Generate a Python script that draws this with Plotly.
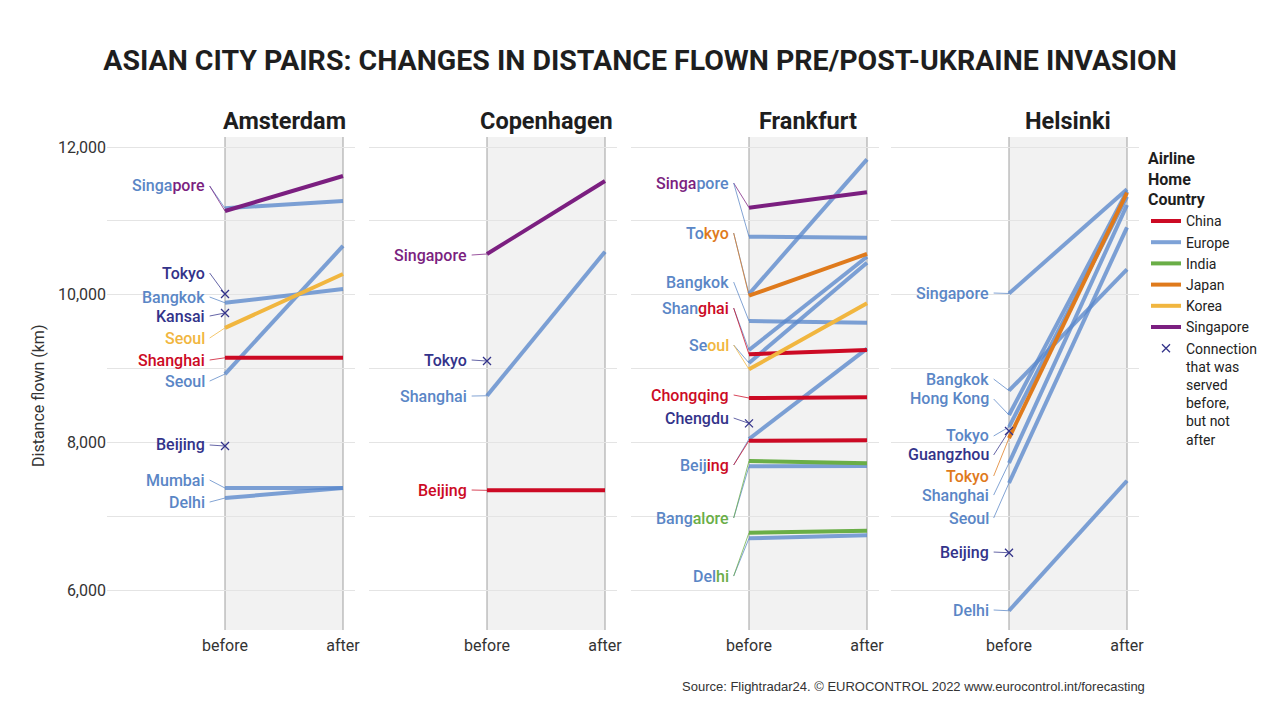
import plotly.graph_objects as go

# ---------------- data ----------------
PANELS = ["Amsterdam", "Copenhagen", "Frankfurt", "Helsinki"]
AIRLINES = ["China", "Europe", "India", "Japan", "Korea", "Singapore"]
GONE = "Gone"  # connection served before, but not after
GONE_NAME = "Connection<br>that was<br>served<br>before,<br>but not<br>after"
X_TICKS = ["before", "after"]
Y_TICKS = [6000, 7000, 8000, 9000, 10000, 11000, 12000]
Y_TICK_TEXT = ["6,000", "", "8,000", "", "10,000", "", "12,000"]

# Amsterdam
AMS_CITY = ["Singapore", "Singapore", "Tokyo", "Bangkok", "Kansai", "Seoul", "Shanghai",
            "Seoul", "Beijing", "Mumbai", "Delhi"]
AMS_AIRLINE = ["Europe", "Singapore", GONE, "Europe", GONE, "Korea", "China",
               "Europe", GONE, "Europe", "Europe"]
AMS_BEFORE = [11170, 11133, 10009, 9890, 9752, 9550, 9145, 8925, 7950, 7381, 7246]
AMS_AFTER = [11270, 11607, None, 10077, None, 10280, 9145, 10660, None, 7380, 7380]

# Copenhagen
CPH_CITY = ["Singapore", "Tokyo", "Shanghai", "Beijing"]
CPH_AIRLINE = ["Singapore", GONE, "Europe", "China"]
CPH_BEFORE = [10551, 9101, 8631, 7350]
CPH_AFTER = [11540, None, 10582, 7350]

# Frankfurt
FRA_CITY = ["Singapore", "Singapore", "Tokyo", "Tokyo", "Bangkok", "Shanghai", "Shanghai",
            "Seoul", "Seoul", "Chongqing", "Chengdu", "Beijing", "Beijing",
            "Bangalore", "Bangalore", "Delhi", "Delhi"]
FRA_AIRLINE = ["Singapore", "Europe", "Europe", "Japan", "Europe", "Europe", "China",
               "Europe", "Korea", "China", GONE, "Europe", "China",
               "India", "Europe", "India", "Europe"]
FRA_BEFORE = [11178, 10785, 10009, 9986, 9643, 9250, 9192, 9074, 8989, 8600, 8257,
              8045, 8022, 7747, 7675, 6776, 6700]
FRA_AFTER = [11386, 10771, 11833, 10551, 9620, 10514, 9250, 10433, 9883, 8610, None,
             9268, 8027, 7716, 7679, 6803, 6741]

# Helsinki
HEL_CITY = ["Singapore", "Bangkok", "Hong Kong", "Tokyo", "Guangzhou", "Tokyo",
            "Shanghai", "Seoul", "Beijing", "Delhi"]
HEL_AIRLINE = ["Europe", "Europe", "Europe", "Europe", GONE, "Japan",
               "Europe", "Europe", GONE, "Europe"]
HEL_BEFORE = [10016, 8699, 8370, 8207, 8153, 8058, 7720, 7449, 6505, 5719]
HEL_AFTER = [11427, 10344, 11400, 11327, None, 11381, 11214, 10912, None, 7480]

# label groups: which routes each city label names (text split into coloured parts)
AMS_LABELS = [[(0, 5), (1, None)], [(2, None)], [(3, None)], [(4, None)], [(5, None)],
              [(6, None)], [(7, None)], [(8, None)], [(9, None)], [(10, None)]]
CPH_LABELS = [[(0, None)], [(1, None)], [(2, None)], [(3, None)]]
FRA_LABELS = [[(0, 5), (1, None)], [(2, 2), (3, None)], [(4, None)], [(5, 4), (6, None)],
              [(7, 2), (8, None)], [(9, None)], [(10, None)], [(11, 4), (12, None)],
              [(14, 4), (13, None)], [(16, 3), (15, None)]]
HEL_LABELS = [[(0, None)], [(1, None)], [(2, None)], [(3, None)], [(4, None)], [(5, None)],
              [(6, None)], [(7, None)], [(8, None)], [(9, None)]]

# ---------------- layout placement (label y positions, km scale) ----------------
AMS_LABEL_Y = [11472, 10293, 9968, 9711, 9413, 9115, 8830, 7964, 7489, 7191]
CPH_LABEL_Y = [10537, 9115, 8627, 7354]
FRA_LABEL_Y = [11512, 10835, 10171, 9819, 9318, 8641, 8329, 7693, 6975, 6189]
HEL_LABEL_Y = [10022, 8857, 8587, 8086, 7829, 7544, 7286, 6975, 6514, 5729]

PANEL_DATA = [
    (AMS_CITY, AMS_AIRLINE, AMS_BEFORE, AMS_AFTER, AMS_LABELS, AMS_LABEL_Y),
    (CPH_CITY, CPH_AIRLINE, CPH_BEFORE, CPH_AFTER, CPH_LABELS, CPH_LABEL_Y),
    (FRA_CITY, FRA_AIRLINE, FRA_BEFORE, FRA_AFTER, FRA_LABELS, FRA_LABEL_Y),
    (HEL_CITY, HEL_AIRLINE, HEL_BEFORE, HEL_AFTER, HEL_LABELS, HEL_LABEL_Y),
]

# ---------------- styles ----------------
FONT = "Roboto"
LINE_COLORS = {
    "China": "#cc0a24",
    "Europe": "rgba(90,136,204,0.78)",
    "India": "#6aae47",
    "Japan": "#df7a1c",
    "Korea": "#f1b63f",
    "Singapore": "#7b1f80",
}
TEXT_COLORS = {
    "China": "#cc0a24",
    "Europe": "#5a86c6",
    "India": "#6aae47",
    "Japan": "#df7a1c",
    "Korea": "#f1b63f",
    "Singapore": "#7b1f80",
    GONE: "#33338a",
}
W, H = 1280, 720
BEFORE_PX = [225, 487, 749, 1009]
UNIT_PX = 118
Y_TOP_PX, Y_BOT_PX = 137, 630
KM_PER_PX = 6000 / 443.0
Y_RANGE = [12000 - (Y_BOT_PX - 147) * KM_PER_PX, 12000 + (147 - Y_TOP_PX) * KM_PER_PX]
X_RANGE = [-1.0, 130 / UNIT_PX]
LABEL_X = -0.15
LEADER_X = -0.13

fig = go.Figure()
shown = set()
annotations = []
shapes = []

for k, (city, airline, before, after, labels, label_y) in enumerate(PANEL_DATA):
    sfx = "" if k == 0 else str(k + 1)
    xa, ya = "x" + sfx, "y" + sfx

    # leader lines
    for parts, ly in zip(labels, label_y):
        for ri, _ in parts:
            col = TEXT_COLORS[airline[ri]]
            fig.add_trace(go.Scatter(
                x=[LEADER_X, 0], y=[ly, before[ri]], mode="lines",
                line=dict(color=col, width=1), opacity=0.75,
                xaxis=xa, yaxis=ya, showlegend=False, hoverinfo="skip"))

    # route lines: Europe first, then the rest on top
    order = [i for i in range(len(city)) if airline[i] == "Europe"] + \
            [i for i in range(len(city)) if airline[i] not in ("Europe", GONE)]
    for i in order:
        a = airline[i]
        fig.add_trace(go.Scatter(
            x=[0, 1], y=[before[i], after[i]], mode="lines",
            line=dict(color=LINE_COLORS[a], width=4),
            name=a, legendgroup=a, showlegend=a not in shown,
            legendrank=AIRLINES.index(a) + 1,
            xaxis=xa, yaxis=ya, hovertemplate=city[i] + ": %{y:,.0f} km<extra>" + a + "</extra>"))
        shown.add(a)
    for i in range(len(city)):
        if airline[i] == GONE:
            fig.add_trace(go.Scatter(
                x=[0], y=[before[i]], mode="markers",
                marker=dict(symbol="x-thin", size=8, color=TEXT_COLORS[GONE],
                            line=dict(color=TEXT_COLORS[GONE], width=1.3)),
                name=GONE_NAME, legendgroup=GONE, showlegend=GONE not in shown,
                legendrank=50, xaxis=xa, yaxis=ya,
                hovertemplate=city[i] + ": %{y:,.0f} km<extra></extra>"))
            shown.add(GONE)

    # city labels
    for parts, ly in zip(labels, label_y):
        name = city[parts[0][0]]
        segs, pos = [], 0
        for ri, cut in parts:
            end = len(name) if cut is None else cut
            segs.append('<span style="color:%s">%s</span>' % (TEXT_COLORS[airline[ri]], name[pos:end]))
            pos = end
        annotations.append(dict(
            xref=xa, yref=ya, x=LABEL_X, y=ly, text="".join(segs), showarrow=False,
            xanchor="right", yanchor="middle", font=dict(family=FONT, size=16, weight=500)))

    # panel title
    annotations.append(dict(
        xref=xa, yref="paper", x=0.5, y=1 - 121 / H, text=PANELS[k], showarrow=False,
        xanchor="center", yanchor="middle",
        font=dict(family=FONT, size=23.5, color="#1e1e1e", weight=700)))

    # grey band and before/after rules
    shapes.append(dict(type="rect", xref=xa, yref=ya + " domain", x0=0, x1=1, y0=0, y1=1,
                       fillcolor="#f2f2f2", line=dict(width=0), layer="below"))
    for xv in (0, 1):
        shapes.append(dict(type="line", xref=xa, yref=ya + " domain", x0=xv, x1=xv, y0=0, y1=1,
                           line=dict(color="#a0a0a0", width=1), layer="below"))

    b = BEFORE_PX[k]
    fig.update_layout(**{
        "xaxis" + sfx: dict(
            domain=[(b - UNIT_PX) / W, (b + 130) / W], range=X_RANGE, anchor=ya,
            showgrid=False, zeroline=False, showline=False, automargin=False,
            tickvals=[0, 1], ticktext=X_TICKS, ticks="outside", ticklen=1,
            tickcolor="rgba(0,0,0,0)", tickfont=dict(family=FONT, size=16, color="#333333"),
            fixedrange=True),
        "yaxis" + sfx: dict(
            domain=[1 - Y_BOT_PX / H, 1 - Y_TOP_PX / H], range=Y_RANGE, anchor=xa,
            matches=None if k == 0 else "y", automargin=False,
            tickvals=Y_TICKS, ticktext=Y_TICK_TEXT, showticklabels=(k == 0),
            showgrid=True, gridcolor="#e4e4e4", gridwidth=1, zeroline=False, showline=False,
            ticks="", tickfont=dict(family=FONT, size=16, color="#333333"), fixedrange=True),
    })

annotations.append(dict(
    xref="paper", yref="paper", x=38 / W, y=1 - 396 / H, text="Distance flown (km)",
    textangle=-90, showarrow=False, xanchor="center", yanchor="middle",
    font=dict(family=FONT, size=16, color="#333333")))
annotations.append(dict(
    xref="paper", yref="paper", x=1147 / W, y=1 - 686 / H,
    text="Source: Flightradar24. © EUROCONTROL 2022 www.eurocontrol.int/forecasting",
    showarrow=False, xanchor="right", yanchor="middle",
    font=dict(family="Liberation Sans", size=13, color="#333333")))

fig.update_layout(
    width=W, height=H, margin=dict(l=0, r=0, t=0, b=0, autoexpand=False),
    paper_bgcolor="white", plot_bgcolor="white",
    font=dict(family=FONT, color="#333333"),
    title=dict(text="ASIAN CITY PAIRS: CHANGES IN DISTANCE FLOWN PRE/POST-UKRAINE INVASION",
               x=0.5, xanchor="center", y=1 - 60 / H, yanchor="middle",
               font=dict(family=FONT, size=28.5, color="#1e1e1e", weight=700)),
    legend=dict(x=1146 / W, y=1 - 143 / H, xanchor="left", yanchor="top",
                bgcolor="rgba(0,0,0,0)", font=dict(family=FONT, size=14, color="#222222"),
                title=dict(text="Airline<br>Home<br>Country",
                           font=dict(family=FONT, size=16, color="#1e1e1e", weight=700)),
                valign="top", itemwidth=30, tracegroupgap=0),
    annotations=annotations, shapes=shapes, hovermode="closest",
)

fig.write_html("out.html")
